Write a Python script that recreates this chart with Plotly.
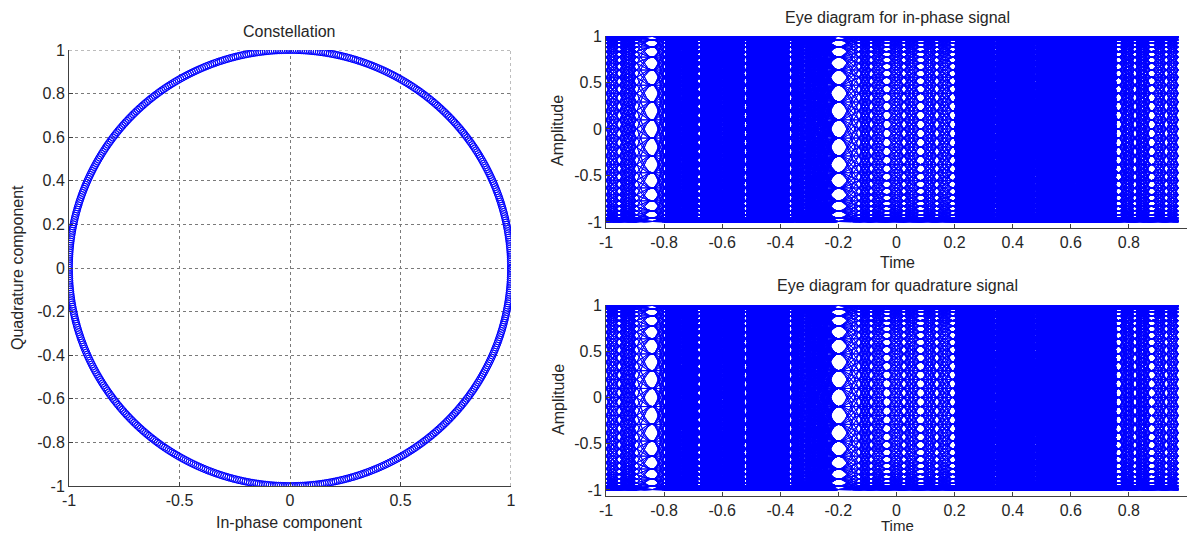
import numpy as np
import plotly.graph_objects as go

# ---- values ----
# times of the white-dot columns in the eye diagrams
EYE_T = [-1.00, -0.955, -0.895, -0.84, -0.80, -0.68, -0.52, -0.365, -0.20, -0.13, -0.088,
         -0.034, 0.025, 0.083, 0.138, 0.195, 0.763, 0.82, 0.878, 0.928, 0.97]
# number of phase states the traces pass through at each column (32: coarse rows, 64: fine rows)
EYE_N = [64, 64, 64, 32, 64, 64, 64, 64, 32, 64, 64,
         64, 64, 64, 64, 64, 64, 64, 64, 64, 64]
EYE_OFF = [0, 0, 0, 0.5, 0, 0, 0, 0, 0.5, 0, 0,
           0, 0, 0, 0, 0, 0, 0, 0, 0, 0]
# how wide the white dots of each column are (time over which the traces flatten)
EYE_EASE = [0, 0.003, 0.004, 0.036, 0.002, 0.002, 0.002, 0.002, 0.036, 0.003, 0.003,
            0.016, 0.003, 0.016, 0.004, 0.015, 0.015, 0.004, 0.015, 0.003, 0]
# phase increment unit (x pi/32) and max number of units between consecutive columns
SEG_STEP = [1, 1, 1, 1, 1, 1, 1, 1, 1, 1, 1, 1, 1, 1, 1, 4, 1, 1, 1, 1]
SEG_MAX = [3, 4, 3, 4, 12, 14, 14, 14, 4, 3, 3, 3, 3, 3, 3, 21, 4, 4, 3, 3]

X_TICKS_CONST = [-1, -0.5, 0, 0.5, 1]
Y_TICKS_CONST = [-1, -0.8, -0.6, -0.4, -0.2, 0, 0.2, 0.4, 0.6, 0.8, 1]
X_TICKS_EYE = [-1, -0.8, -0.6, -0.4, -0.2, 0, 0.2, 0.4, 0.6, 0.8, 1]
Y_TICKS_EYE = [-1, -0.5, 0, 0.5, 1]

BLUE = "#0000ff"
TXT = "#262626"
FONT = "Liberation Sans, Arial, sans-serif"
FS = 16

# page is 1195x544; the html body keeps its default 8px margin
PAGE_MARGIN = 8
FW, FH = 1195 - 2 * PAGE_MARGIN, 544 - 2 * PAGE_MARGIN


def phase_grid(n, off):
    return (np.arange(n) + off) * 2 * np.pi / n


def profile(t0, t1, e0, e1, s):
    L = t1 - t0
    v = np.ones_like(s)
    if e0 > 0:
        v = np.minimum(v, s * L / e0)
    if e1 > 0:
        v = np.minimum(v, (1 - s) * L / e1)
    g = np.concatenate([[0.0], np.cumsum((v[1:] + v[:-1]) / 2)])
    return g / g[-1]


xs, ph = [], []
const_phase = []
for i in range(len(EYE_T) - 1):
    t0, t1 = EYE_T[i], EYE_T[i + 1]
    e0, e1 = EYE_EASE[i], EYE_EASE[i + 1]
    A = phase_grid(EYE_N[i], EYE_OFF[i])
    nb, ob = EYE_N[i + 1], EYE_OFF[i + 1]
    step, mx = SEG_STEP[i], SEG_MAX[i]
    sf = np.linspace(0, 1, 1201)
    gf = profile(t0, t1, e0, e1, sf)
    eased = e0 > 0 or e1 > 0
    for j in range(-mx, mx + 1):
        d = j * step * np.pi / 32
        u = (A + d) / (2 * np.pi / nb) - ob
        a = A[np.abs(u - np.round(u)) < 1e-6]
        if a.size == 0:
            continue
        n = int(max(6, abs(d) / 0.14 + 6))
        if eased:
            n = max(n, 22)
            s = 0.5 - 0.5 * np.cos(np.pi * np.linspace(0, 1, n))
        else:
            s = np.linspace(0, 1, n)
        g = np.interp(s, sf, gf)
        P = a[:, None] + d * g[None, :]
        X = np.broadcast_to(t0 + s * (t1 - t0), P.shape)
        P = np.concatenate([P, np.full((a.size, 1), np.nan)], axis=1)
        X = np.concatenate([X, np.full((a.size, 1), np.nan)], axis=1)
        xs.append(X.ravel())
        ph.append(P.ravel())
        for sc in (0.3, 0.5, 0.7):
            const_phase.append(a + d * np.interp(sc, sf, gf))

xs = np.concatenate(xs)
ph = np.concatenate(ph)


def tolist(a, nd):
    a = np.round(a, nd)
    return [None if np.isnan(v) else float(v) for v in a]


x_list = tolist(xs, 4)
yi_list = tolist(np.cos(ph), 3)
yq_list = tolist(np.sin(ph), 3)

cp = np.concatenate(const_phase) % (2 * np.pi)
cp = np.unique(np.round(cp, 2))
const_I = np.cos(cp)
const_Q = np.sin(cp)

fig = go.Figure()

fig.add_trace(go.Scatter(x=const_I, y=const_Q, mode="markers", xaxis="x", yaxis="y",
                         marker=dict(symbol="circle-open", size=7, color=BLUE,
                                     line=dict(width=1, color=BLUE)),
                         hoverinfo="skip", showlegend=False))
fig.add_trace(go.Scatter(x=x_list, y=yi_list, mode="lines", xaxis="x2", yaxis="y2",
                         line=dict(color=BLUE, width=1), connectgaps=False,
                         hoverinfo="skip", showlegend=False))
fig.add_trace(go.Scatter(x=x_list, y=yq_list, mode="lines", xaxis="x3", yaxis="y3",
                         line=dict(color=BLUE, width=1), connectgaps=False,
                         hoverinfo="skip", showlegend=False))


def clip01(v):
    return min(1.0, max(0.0, v))


def px_x(a, b):
    return [clip01((a - PAGE_MARGIN) / FW), clip01((b - PAGE_MARGIN) / FW)]


def px_y(top, bottom):
    return [clip01(1 - (bottom - PAGE_MARGIN) / FH), clip01(1 - (top - PAGE_MARGIN) / FH)]


axis_common = dict(showline=True, linecolor="#404040", linewidth=1, ticks="inside",
                   ticklen=4, tickcolor="#404040", zeroline=False,
                   tickfont=dict(family=FONT, size=FS, color=TXT), fixedrange=True)

grid = dict(showgrid=True, gridcolor="#7a7a7a", griddash="dot", gridwidth=1)

fig.update_layout(
    width=FW, height=FH, margin=dict(l=0, r=0, t=0, b=0, autoexpand=False),
    paper_bgcolor="white", plot_bgcolor="white",
    font=dict(family=FONT, size=FS, color=TXT),
    xaxis=dict(domain=px_x(69, 511), range=[-1, 1], tickvals=X_TICKS_CONST,
               ticktext=[f"{v:g}" for v in X_TICKS_CONST], anchor="y",
               **grid, **axis_common),
    yaxis=dict(domain=px_y(50, 486), range=[-1, 1], tickvals=Y_TICKS_CONST,
               ticktext=[f"{v:g}" for v in Y_TICKS_CONST], anchor="x",
               **grid, **axis_common),
    xaxis2=dict(domain=px_x(606, 1187), range=[-1, 1], tickvals=X_TICKS_EYE,
                ticktext=[f"{v:g}" for v in X_TICKS_EYE], anchor="y2",
                showgrid=False, **axis_common),
    yaxis2=dict(domain=px_y(36, 228), range=[-1.065, 1.0], tickvals=Y_TICKS_EYE,
                ticktext=[f"{v:g}" for v in Y_TICKS_EYE], anchor="x2",
                showgrid=False, **axis_common),
    xaxis3=dict(domain=px_x(606, 1187), range=[-1, 1], tickvals=X_TICKS_EYE,
                ticktext=[f"{v:g}" for v in X_TICKS_EYE], anchor="y3",
                showgrid=False, **axis_common),
    yaxis3=dict(domain=px_y(305, 496), range=[-1.065, 1.0], tickvals=Y_TICKS_EYE,
                ticktext=[f"{v:g}" for v in Y_TICKS_EYE], anchor="x3",
                showgrid=False, **axis_common),
)

# dotted grid lines on the top and right borders of the constellation box
fig.add_shape(type="line", xref="x", yref="y", x0=-1, x1=1, y0=1, y1=1,
              line=dict(color="#7a7a7a", width=1, dash="dot"), layer="below")
fig.add_shape(type="line", xref="x", yref="y", x0=1, x1=1, y0=-1, y1=1,
              line=dict(color="#7a7a7a", width=1, dash="dot"), layer="below")


def label(text, x, y, angle=0, size=FS, yanchor="middle"):
    fig.add_annotation(text=text, x=(x - PAGE_MARGIN) / FW, y=1 - (y - PAGE_MARGIN) / FH,
                       xref="paper", yref="paper",
                       showarrow=False, textangle=angle,
                       font=dict(family=FONT, size=size, color=TXT),
                       xanchor="center", yanchor=yanchor)


label("Constellation", 289, 31)
label("In-phase component", 289, 522)
label("Quadrature component", 17, 268, -90)
label("Eye diagram for in-phase signal", 897, 18)
label("Time", 897, 263)
label("Amplitude", 558, 131, -90)
label("Eye diagram for quadrature signal", 897, 285)
label("Time", 897, 536, size=15, yanchor="bottom")
label("Amplitude", 558, 400, -90)

fig.write_html("out.html", config={"displayModeBar": False, "staticPlot": True})
